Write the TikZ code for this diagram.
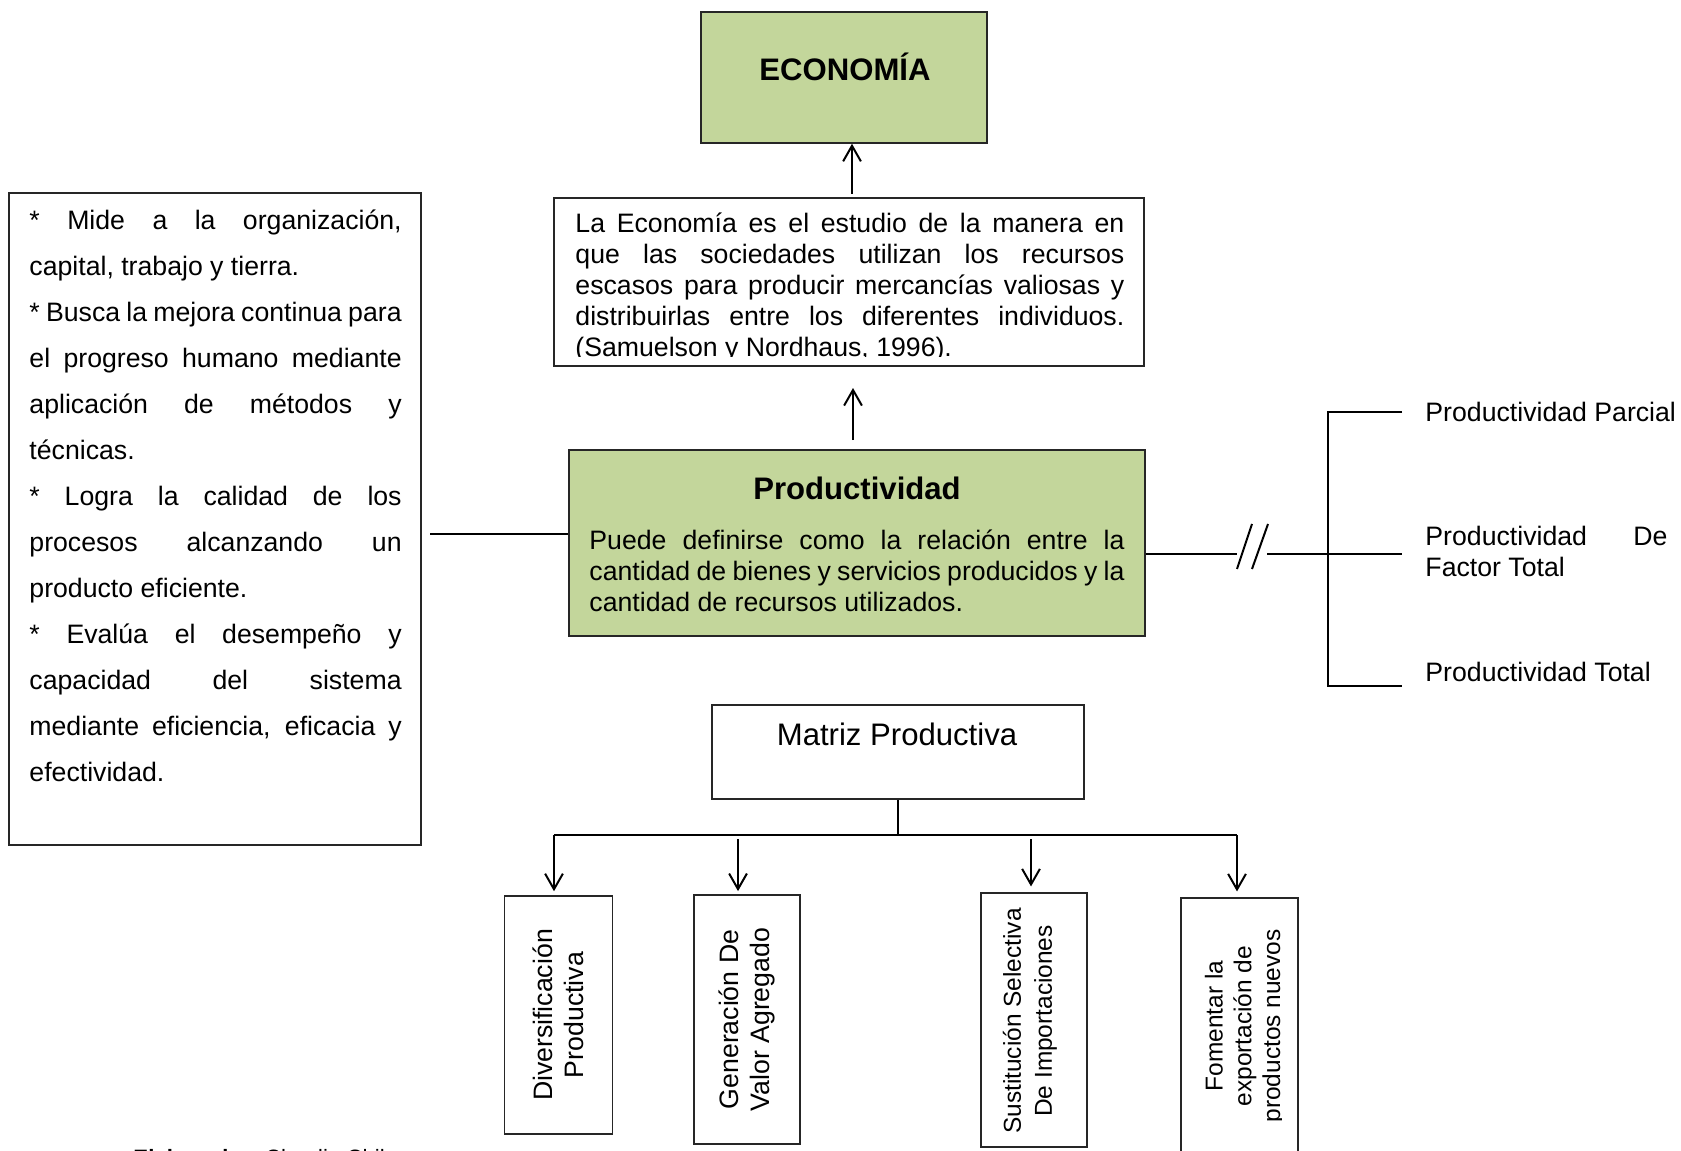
\documentclass[tikz,border=0pt]{standalone}
\usepackage{fontspec}
\setmainfont{Liberation Sans}
\usetikzlibrary{arrows.meta,positioning}
\definecolor{verdeclaro}{HTML}{C3D69B}
\newcommand{\pxl}{0.45pt}

\begin{document}
\begin{tikzpicture}[x=\pxl,y=-\pxl,
  caja/.style={draw=black!85,line width=0.7pt},
  cajaverde/.style={caja,fill=verdeclaro},
  texto/.style={font=\fontsize{12}{13.95}\selectfont},
  textochico/.style={font=\fontsize{11}{13.95}\selectfont},
  titulo/.style={font=\fontsize{14}{16}\selectfont\bfseries},
  linea/.style={line width=0.9pt},
  flecha/.style={linea,-{Straight Barb[length=7pt,width=8pt]}}]
\tikzstyle{every node}+=[inner sep=0pt]
\useasboundingbox (0,0) rectangle (1681,1151);
\clip (0,0) rectangle (1681,1151);
\fill[white] (0,0) rectangle (1681,1151);

\node[cajaverde,minimum width=286*\pxl,minimum height=131*\pxl] (economia) at (844,77.5) {};
\node[titulo,anchor=base] (economiat) at (845,81) {ECONOMÍA};

\node[caja,minimum width=590*\pxl,minimum height=168*\pxl] (definicion) at (849,282) {};
\begin{scope}
\clip (554,198) rectangle (1144,356.5);
\node[texto,text width=247pt,align=justify,anchor=base west] (definiciont) at (575,232)
  {La Economía es el estudio de la manera en\linebreak
   que las sociedades utilizan los recursos\linebreak
   escasos para producir mercancías valiosas y\linebreak
   distribuirlas entre los diferentes individuos.\linebreak
   (Samuelson y Nordhaus, 1996).};
\end{scope}

\node[cajaverde,minimum width=576*\pxl,minimum height=186*\pxl] (productividad) at (857,543) {};
\node[titulo,anchor=base] (productividadt) at (857,499) {Productividad};
\node[texto,text width=240.8pt,align=justify,anchor=base west] (productividadd) at (589,549)
  {Puede definirse como la relación entre la\linebreak
   cantidad de bienes y servicios producidos y la\linebreak
   cantidad de recursos utilizados.};

\node[caja,minimum width=412*\pxl,minimum height=652*\pxl] (rasgos) at (215,519) {};
\node[font=\fontsize{12}{20.7}\selectfont,text width=167.5pt,align=justify,anchor=base west] (rasgost) at (29,229)
  {* Mide a la organización,\linebreak
   capital, trabajo y tierra.\par
   * Busca la mejora continua para\linebreak
   el progreso humano mediante\linebreak
   aplicación de métodos y\linebreak
   técnicas.\par
   * Logra la calidad de los\linebreak
   procesos alcanzando un\linebreak
   producto eficiente.\par
   * Evalúa el desempeño y\linebreak
   capacidad del sistema\linebreak
   mediante eficiencia, eficacia y\linebreak
   efectividad.};

\coordinate (d1) at (852,194);
\draw[flecha] (d1) -- (d1 |- economia.south);
\coordinate (p1) at (853,440);
\coordinate (p2) at (853,388);
\draw[flecha] (p1) -- (p2);
\coordinate (i1) at (430,534);
\draw[linea] (i1) -- (i1 -| productividad.west);

\coordinate (c1) at (1237,554);
\coordinate (c2) at (1267,554);
\coordinate (rama) at (1328,554);
\coordinate (rarriba) at (1328,412);
\coordinate (rabajo) at (1328,686);
\coordinate (e1) at (1402,412);
\coordinate (e2) at (1402,554);
\coordinate (e3) at (1402,686);
\draw[linea] (productividad.east |- c1) -- (c1);
\draw[linea] (1237,569) -- (1252,524);
\draw[linea] (1252,569) -- (1268,524);
\draw[linea] (c2) -- (rama) -- (e2);
\draw[linea] (e1) -- (rarriba) -- (rabajo) -- (e3);
\node[texto,anchor=base west] (parcial) at (1425,421) {Productividad Parcial};
\node[texto,text width=108.9pt,align=justify,anchor=base west] (factor) at (1425,545)
  {Productividad De\linebreak Factor Total};
\node[texto,anchor=base west] (total) at (1425,681) {Productividad Total};

\node[caja,minimum width=372*\pxl,minimum height=94*\pxl] (matriz) at (898,752) {};
\node[font=\fontsize{14}{16}\selectfont,anchor=base] (matrizt) at (897,745) {Matriz Productiva};
\coordinate (r1) at (554,835);
\coordinate (r2) at (738,835);
\coordinate (r3) at (1031,835);
\coordinate (r4) at (1237,835);
\draw[linea] (matriz.south) -- (matriz.south |- r1);
\draw[linea] (r1) -- (r4);

\node[caja,texto,rotate=90,align=center,minimum width=238*\pxl,minimum height=108*\pxl] (diversificacion) at (558.5,1015)
  {Diversificación\\Productiva};
\node[caja,texto,rotate=90,align=center,minimum width=249*\pxl,minimum height=106*\pxl] (generacion) at (747,1019.5)
  {Generación De\\Valor Agregado};
\node[caja,rotate=90,minimum width=254*\pxl,minimum height=106*\pxl] (sustitucion) at (1034,1020) {};
\node[textochico,rotate=90,align=center] (sustituciont) at (1030,1021)
  {Sustitución Selectiva\\De Importaciones};
\node[caja,rotate=90,minimum width=267*\pxl,minimum height=117*\pxl] (fomentar) at (1239.5,1031.5) {};
\begin{scope}
\clip (1181,898) rectangle (1281,1151);
\node[font=\fontsize{11}{12.9}\selectfont,rotate=90,align=center] (fomentart) at (1245,1026)
  {Fomentar la\\exportación de\\productos nuevos};
\end{scope}

\draw[flecha,shorten >=1.8pt] (r1) -- (r1 |- diversificacion.east);
\draw[flecha,shorten <=1.8pt,shorten >=1.4pt] (r2) -- (r2 |- generacion.east);
\draw[flecha,shorten <=1.8pt,shorten >=2.6pt] (r3) -- (r3 |- sustitucion.east);
\draw[flecha,shorten >=2.6pt] (r4) -- (r4 |- fomentar.east);

\node[font=\fontsize{10}{12}\selectfont,anchor=base west] (elaborado) at (133,1165) {\textbf{Elaborado:}\hspace{7pt}Claudia Chil};
\end{tikzpicture}
\end{document}
